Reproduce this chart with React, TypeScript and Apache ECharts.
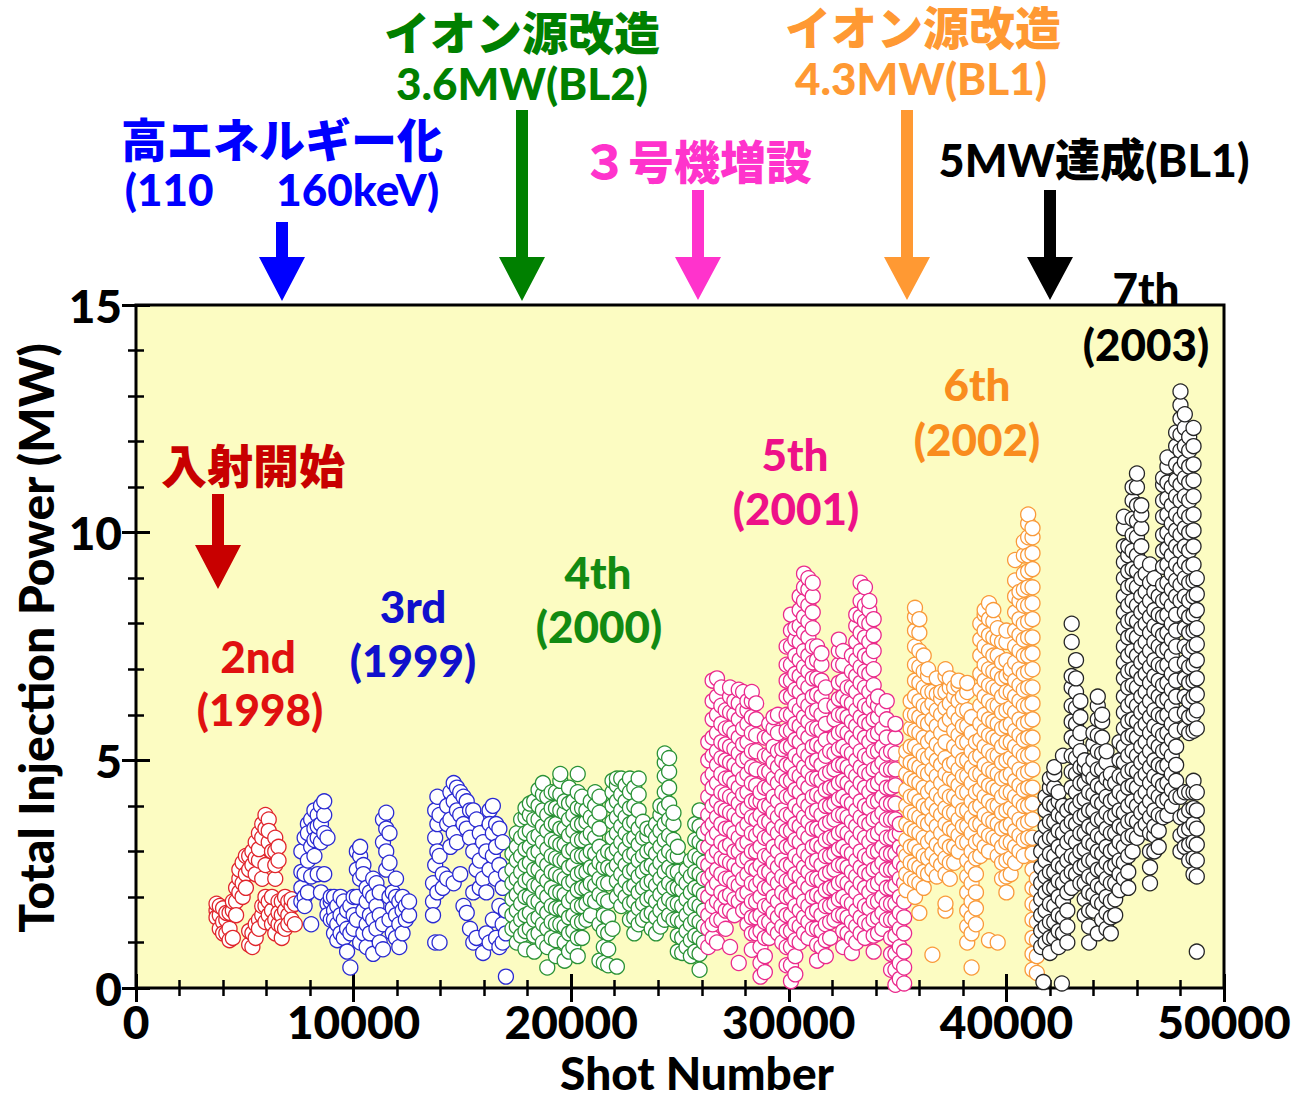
import React, { useEffect, useRef } from "react";
import * as echarts from "echarts";

const FONT = "Lato, 'Noto Sans CJK JP', sans-serif";

// Axis ranges and tick labels
const shotTicks = [0, 10000, 20000, 30000, 40000, 50000];
const powerTicks = [0, 5, 10, 15];

// Each row: [shot number, injection powers (MW) logged around that shot...]
const run2nd: number[][] = [
  [3700, 1.7, 1.55, 1.85],
  [3850, 1.6, 1.3, 1.8],
  [4000, 1.75, 1.45, 1.2],
  [4150, 1.5, 1.2, 1.65],
  [4300, 1.3, 1.65, 1.05],
  [4450, 1.1, 1.7, 1.9],
  [4600, 1.9, 2.2, 1.6],
  [4750, 2.4, 2.6, 2.1],
  [4900, 2.3, 2.75, 2.0],
  [5050, 2.5, 2.9, 2.2],
  [5200, 2.9, 2.6, 0.95, 1.25],
  [5350, 0.9, 1.2, 2.7, 3.0],
  [5500, 1.1, 1.4, 3.2, 2.5, 2.85],
  [5650, 1.5, 1.3, 3.4, 2.8, 3.05],
  [5800, 1.6, 1.8, 3.6, 3.3, 2.4],
  [5950, 1.8, 2.0, 3.8, 3.5, 2.7, 1.45],
  [6100, 1.9, 1.6, 3.7, 3.2, 3.45],
  [6250, 1.7, 2.0, 1.4, 3.0],
  [6400, 1.5, 1.2, 3.3, 3.0, 2.4, 2.7],
  [6550, 1.4, 1.9, 3.1, 2.8, 1.65],
  [6700, 1.9, 1.1, 1.6, 1.35],
  [6850, 2.0, 1.3, 1.7],
  [7000, 1.6, 1.9, 1.4],
  [7150, 1.8, 1.5, 1.95],
  [7300, 1.85, 1.4],
];

const run3rd: number[][] = [
  [7600, 3.0, 2.2, 1.9, 2.55],
  [7750, 3.3, 2.5, 2.0, 1.8],
  [7900, 3.6, 3.4, 2.8, 2.1],
  [8050, 3.7, 3.1, 2.45, 1.4],
  [8200, 3.5, 3.9, 2.9, 3.25],
  [8350, 3.3, 3.8, 2.5, 3.55],
  [8500, 3.6, 4.0, 3.2, 2.1],
  [8650, 3.8, 4.1, 3.4, 2.5],
  [8800, 3.3, 1.85, 1.6],
  [8950, 1.9, 1.5, 2.0],
  [9100, 1.7, 2.0, 1.2, 1.5],
  [9250, 1.8, 1.4, 1.05],
  [9400, 2.0, 1.6, 1.2],
  [9550, 1.5, 1.1, 1.9],
  [9700, 1.7, 1.3, 0.8],
  [9850, 0.45, 1.2, 1.8],
  [10000, 1.6, 1.3, 2.0],
  [10150, 2.6, 3.0, 2.0, 1.5],
  [10300, 2.9, 3.1, 2.4, 1.0],
  [10450, 2.7, 2.5, 1.7, 1.2],
  [10600, 2.2, 1.9, 1.4, 0.9],
  [10750, 2.1, 1.6, 1.2],
  [10900, 2.4, 2.0, 1.5, 0.75],
  [11050, 1.8, 1.3, 2.3],
  [11200, 2.1, 1.6, 1.0],
  [11350, 3.2, 3.7, 1.4, 0.85],
  [11500, 3.85, 3.5, 3.0, 2.6],
  [11650, 3.4, 2.75, 2.0, 1.5],
  [11800, 2.1, 1.75, 1.2],
  [11950, 2.0, 1.6, 2.4, 1.1],
  [12100, 1.9, 1.4, 0.9],
  [12250, 2.0, 1.7, 1.2],
  [12400, 1.8, 1.5],
  [12550, 1.6, 1.9],
  [13650, 1.9, 1.6, 2.3],
  [13750, 2.7, 3.3, 3.9, 1.0],
  [13850, 4.2, 3.6, 3.0, 2.1],
  [13950, 3.8, 2.9, 1.0],
  [14100, 2.2, 2.5],
  [14300, 3.6, 2.4, 4.0],
  [14450, 4.3, 3.7, 3.1],
  [14600, 4.5, 4.1, 3.4, 2.3],
  [14750, 4.4, 3.9, 3.2],
  [14900, 4.3, 3.8, 2.5],
  [15050, 4.2, 3.6, 1.8],
  [15200, 4.1, 3.5, 1.65],
  [15350, 3.9, 3.3, 1.3],
  [15500, 3.9, 3.0, 2.1, 1.0],
  [15650, 3.7, 2.6, 1.1],
  [15800, 3.4, 2.2, 2.8],
  [15950, 3.2, 2.4, 0.77],
  [16100, 3.0, 2.1, 1.2],
  [16250, 3.9, 3.6, 2.6, 1.0],
  [16400, 4.0, 3.4, 2.9, 1.5],
  [16550, 3.6, 3.1, 2.4, 1.1],
  [16700, 3.5, 2.7, 1.8, 0.9],
  [16850, 3.2, 2.2, 1.4, 1.0],
  [17000, 2.5, 1.7, 1.2, 0.25],
];

const run4th: number[][] = [
  [17300, 1.3, 1.6, 1.95, 2.3, 2.6, 2.95],
  [17500, 1.0, 1.35, 1.7, 2.05, 2.4, 2.8, 3.1, 3.4],
  [17700, 1.15, 1.5, 1.85, 2.2, 2.55, 2.9, 3.3, 3.7],
  [17900, 0.85, 1.25, 1.6, 2.0, 2.35, 2.7, 3.05, 3.4, 3.75, 3.95],
  [18100, 1.3, 1.65, 2.0, 2.4, 2.75, 3.1, 3.45, 3.8, 4.05],
  [18300, 0.8, 1.15, 1.5, 1.9, 2.25, 2.6, 2.95, 3.3, 3.7, 4.1],
  [18500, 1.2, 1.55, 1.9, 2.25, 2.6, 3.0, 3.35, 3.7, 4.0, 4.35],
  [18700, 1.0, 1.4, 1.75, 2.1, 2.45, 2.8, 3.2, 3.55, 3.9, 4.25, 4.5],
  [18900, 0.45, 0.9, 1.3, 1.65, 2.0, 2.35, 2.7, 3.05, 3.45, 3.8, 4.2],
  [19100, 1.1, 1.45, 1.8, 2.2, 2.55, 2.9, 3.25, 3.6, 3.95, 4.3],
  [19300, 0.7, 1.05, 1.4, 1.75, 2.1, 2.5, 2.85, 3.2, 3.6, 3.95, 4.3],
  [19500, 1.4, 1.75, 2.1, 2.45, 2.8, 3.15, 3.5, 3.9, 4.25, 4.55, 4.7],
  [19700, 0.6, 1.0, 1.35, 1.7, 2.05, 2.4, 2.8, 3.15, 3.5, 3.85, 4.1],
  [19900, 0.8, 1.2, 1.55, 1.9, 2.3, 2.65, 3.0, 3.35, 3.7, 4.05, 4.4],
  [20100, 0.9, 1.25, 1.6, 2.0, 2.35, 2.7, 3.05, 3.45, 3.8, 4.1],
  [20300, 0.7, 1.1, 1.45, 1.8, 2.15, 2.5, 2.9, 3.25, 3.6, 3.95, 4.3, 4.7],
  [20500, 1.1, 1.45, 1.8, 2.2, 2.55, 2.9, 3.25, 3.6, 3.95, 4.2],
  [20700, 1.5, 1.85, 2.2, 2.55, 2.9, 3.3, 3.65, 3.9],
  [20900, 1.6, 1.95, 2.3, 2.65, 3.0, 3.4, 3.75, 4.1],
  [21100, 1.9, 2.25, 2.6, 2.95, 3.3, 3.65, 4.0, 4.3],
  [21300, 0.6, 1.4, 2.05, 2.4, 2.75, 3.1, 3.5, 3.85, 4.2],
  [21500, 0.55, 0.9, 1.25, 1.6, 1.95, 2.3, 2.65, 2.9],
  [21700, 0.5, 0.85, 1.2, 1.55, 1.9, 2.3, 2.65, 3.0],
  [21900, 1.3, 2.6, 2.95, 3.3, 3.65, 4.0, 4.3, 4.55],
  [22100, 0.47, 2.0, 2.35, 2.7, 3.05, 3.4, 3.75, 4.1, 4.45, 4.6],
  [22300, 1.8, 2.15, 2.5, 2.85, 3.2, 3.55, 3.9, 4.25, 4.6],
  [22500, 2.0, 2.35, 2.7, 3.05, 3.4, 3.75, 4.1, 4.45],
  [22700, 1.5, 1.85, 2.2, 2.55, 2.9, 3.25, 3.6, 3.95, 4.3, 4.6],
  [22900, 1.2, 1.55, 1.9, 2.25, 2.6, 2.95, 3.3, 3.65, 4.0, 4.4],
  [23100, 1.4, 1.75, 2.1, 2.45, 2.8, 3.15, 3.5, 3.9, 4.25, 4.6],
  [23300, 1.5, 1.85, 2.2, 2.55, 2.9, 3.3, 3.65],
  [23500, 1.6, 1.95, 2.3, 2.65, 3.0, 3.35, 3.5],
  [23700, 1.3, 1.65, 2.0, 2.35, 2.7, 3.05, 3.45],
  [23900, 1.2, 1.55, 1.9, 2.25, 2.6, 2.95, 3.3, 3.6],
  [24100, 1.35, 1.7, 2.05, 2.4, 2.75, 3.1, 3.45, 3.8, 4.0],
  [24300, 1.5, 1.85, 2.2, 2.55, 2.9, 3.25, 3.6, 3.95, 4.3, 4.65, 4.95, 5.15],
  [24500, 1.6, 1.95, 2.3, 2.65, 3.0, 3.35, 3.7, 4.05, 4.4, 4.75, 5.05],
  [24700, 1.5, 1.85, 2.2, 2.55, 2.9, 3.25, 3.6, 3.85],
  [24900, 0.8, 1.15, 1.5, 1.85, 2.2, 2.55, 2.9, 3.1],
  [25100, 0.77, 1.1, 1.45, 1.8, 2.15, 2.4],
  [25300, 0.9, 1.25, 1.6, 1.95, 2.3, 2.6],
  [25500, 0.7, 1.05, 1.4, 1.75, 2.1, 2.45, 2.8],
  [25700, 0.8, 1.15, 1.5, 1.85, 2.2, 2.55, 2.9, 3.25, 3.6],
  [25900, 0.4, 0.75, 1.1, 1.45, 1.8, 2.15, 2.5, 2.85, 3.2, 3.55, 3.9],
  [26100, 1.0, 1.35, 1.7, 2.05, 2.4, 2.75, 3.1, 3.4],
];

const run5th: number[][] = [
  [26300, 0.9, 1.3, 1.6, 2.0, 2.4, 2.7, 3.1, 3.5, 3.8, 4.2, 4.6, 5.0, 5.4],
  [26500, 1.1, 1.4, 1.8, 2.2, 2.5, 2.9, 3.3, 3.6, 4.0, 4.4, 4.7, 5.1, 5.5, 5.9, 6.3, 6.75],
  [26700, 1.0, 1.5, 1.9, 2.3, 2.6, 3.0, 3.4, 3.75, 4.1, 4.5, 4.9, 5.2, 5.6, 6.0, 6.4, 6.8],
  [26900, 1.5, 1.8, 2.1, 2.5, 2.85, 3.2, 3.6, 3.95, 4.3, 4.7, 5.05, 5.4, 5.8, 6.2, 6.6],
  [27100, 1.3, 1.7, 2.0, 2.4, 2.8, 3.1, 3.5, 3.9, 4.25, 4.6, 5.0, 5.35, 5.7, 6.1],
  [27300, 0.9, 1.7, 2.05, 2.4, 2.75, 3.15, 3.5, 3.85, 4.2, 4.6, 4.95, 5.3, 5.7, 6.05, 6.4, 6.6],
  [27500, 1.6, 1.95, 2.3, 2.7, 3.0, 3.4, 3.8, 4.15, 4.5, 4.9, 5.25, 5.6, 6.0, 6.3],
  [27700, 0.55, 1.9, 2.25, 2.6, 3.0, 3.3, 3.7, 4.05, 4.4, 4.8, 5.15, 5.5, 5.9, 6.25, 6.55],
  [27900, 1.7, 2.05, 2.4, 2.8, 3.15, 3.5, 3.9, 4.25, 4.6, 5.0, 5.35, 5.7, 6.1, 6.5],
  [28100, 1.4, 1.75, 2.1, 2.5, 2.85, 3.2, 3.6, 3.95, 4.3, 4.7, 5.05, 5.4, 5.8, 6.1, 6.3],
  [28300, 0.84, 1.2, 1.55, 1.9, 2.3, 2.65, 3.0, 3.4, 3.75, 4.1, 4.5, 4.85, 5.2, 5.6, 5.95, 6.3, 6.5],
  [28500, 1.2, 1.55, 1.9, 2.25, 2.6, 3.0, 3.35, 3.7, 4.1, 4.45, 4.8, 5.2, 5.55, 5.9, 6.25],
  [28700, 0.25, 0.55, 0.9, 1.25, 1.6, 2.0, 2.35, 2.7, 3.1, 3.45, 3.8, 4.1, 4.3],
  [28900, 0.35, 0.7, 1.1, 1.45, 1.8, 2.2, 2.55, 2.9, 3.3, 3.65, 4.0, 4.4, 4.75, 5.1, 5.5],
  [29100, 1.1, 1.45, 1.8, 2.2, 2.55, 2.9, 3.3, 3.65, 4.0, 4.4, 4.75, 5.1, 5.5, 5.8],
  [29300, 1.3, 1.65, 2.0, 2.4, 2.75, 3.1, 3.5, 3.85, 4.2, 4.6, 4.95, 5.3, 5.7, 5.95],
  [29500, 1.2, 1.55, 1.9, 2.3, 2.65, 3.0, 3.4, 3.75, 4.1, 4.5, 4.85, 5.2, 5.6, 6.0],
  [29700, 1.0, 1.35, 1.7, 2.1, 2.45, 2.8, 3.2, 3.55, 3.9, 4.3, 4.65, 5.0, 5.25],
  [29900, 0.5, 0.9, 1.25, 1.6, 2.0, 2.35, 2.7, 3.1, 3.45, 3.8, 4.2, 4.55, 4.9, 5.3, 5.65, 6.0, 6.4, 6.75, 7.1, 7.5],
  [30100, 0.15, 0.5, 0.9, 1.25, 1.6, 2.0, 2.35, 2.7, 3.1, 3.45, 3.8, 4.2, 4.55, 4.9, 5.3, 5.65, 6.0, 6.4, 6.75, 7.1, 7.5, 7.85, 8.2],
  [30300, 0.3, 0.7, 1.05, 1.4, 1.8, 2.15, 2.5, 2.9, 3.25, 3.6, 4.0, 4.35, 4.7, 5.1, 5.45, 5.8, 6.2, 6.55, 6.9, 7.3, 7.65, 7.9],
  [30500, 1.0, 1.35, 1.7, 2.1, 2.45, 2.8, 3.2, 3.55, 3.9, 4.3, 4.65, 5.0, 5.4, 5.75, 6.1, 6.5, 6.85, 7.2, 7.6, 7.95, 8.3, 8.6],
  [30700, 1.2, 1.55, 1.9, 2.3, 2.65, 3.0, 3.4, 3.75, 4.1, 4.5, 4.85, 5.2, 5.6, 5.95, 6.3, 6.7, 7.05, 7.4, 7.8, 8.15, 8.5, 8.8, 9.1],
  [30900, 1.1, 1.45, 1.8, 2.2, 2.55, 2.9, 3.3, 3.65, 4.0, 4.4, 4.75, 5.1, 5.5, 5.85, 6.2, 6.6, 6.95, 7.3, 7.7, 8.05, 8.4, 8.75, 9.0],
  [31100, 1.3, 1.65, 2.0, 2.4, 2.75, 3.1, 3.5, 3.85, 4.2, 4.6, 4.95, 5.3, 5.7, 6.05, 6.4, 6.8, 7.15, 7.5, 7.9, 8.25, 8.6, 8.9],
  [31300, 0.6, 0.95, 1.3, 1.7, 2.05, 2.4, 2.8, 3.15, 3.5, 3.9, 4.25, 4.6, 5.0, 5.35, 5.7, 6.1, 6.45, 6.8, 7.2, 7.5],
  [31500, 0.9, 1.25, 1.6, 2.0, 2.35, 2.7, 3.1, 3.45, 3.8, 4.2, 4.55, 4.9, 5.3, 5.65, 6.0, 6.4, 6.75, 7.1, 7.35],
  [31700, 0.7, 1.05, 1.4, 1.8, 2.15, 2.5, 2.9, 3.25, 3.6, 4.0, 4.35, 4.7, 5.1, 5.45, 5.8, 6.2, 6.6],
  [31900, 1.1, 1.45, 1.8, 2.2, 2.55, 2.9, 3.3, 3.65, 4.0, 4.4, 4.75, 5.2],
  [32100, 1.5, 1.85, 2.2, 2.6, 2.95, 3.3, 3.7, 4.05, 4.4, 4.8, 5.15, 5.5, 5.9, 6.2],
  [32300, 1.6, 1.95, 2.3, 2.7, 3.05, 3.4, 3.8, 4.15, 4.5, 4.9, 5.25, 5.6, 6.0, 6.35, 6.7, 7.1, 7.4, 7.65],
  [32500, 0.9, 1.25, 1.6, 2.0, 2.35, 2.7, 3.1, 3.45, 3.8, 4.2, 4.55, 4.9, 5.3, 5.65, 6.0, 6.4, 6.75, 7.1, 7.4],
  [32700, 1.2, 1.55, 1.9, 2.3, 2.65, 3.0, 3.4, 3.75, 4.1, 4.5, 4.85, 5.2, 5.6, 5.95, 6.3, 6.6],
  [32900, 0.77, 1.1, 1.45, 1.85, 2.2, 2.55, 2.95, 3.3, 3.65, 4.05, 4.4, 4.75, 5.15, 5.5, 5.85, 6.25, 6.6, 6.95, 7.3],
  [33100, 1.0, 1.35, 1.7, 2.1, 2.45, 2.8, 3.2, 3.55, 3.9, 4.3, 4.65, 5.0, 5.4, 5.75, 6.1, 6.5, 6.85, 7.2, 7.6, 7.95, 8.2],
  [33300, 1.2, 1.55, 1.9, 2.3, 2.65, 3.0, 3.4, 3.75, 4.1, 4.5, 4.85, 5.2, 5.6, 5.95, 6.3, 6.7, 7.05, 7.4, 7.8, 8.15, 8.5, 8.9],
  [33500, 1.1, 1.45, 1.8, 2.2, 2.55, 2.9, 3.3, 3.65, 4.0, 4.4, 4.75, 5.1, 5.5, 5.85, 6.2, 6.6, 6.95, 7.3, 7.7, 8.05, 8.4, 8.8],
  [33700, 1.4, 1.75, 2.1, 2.5, 2.85, 3.2, 3.6, 3.95, 4.3, 4.7, 5.05, 5.4, 5.8, 6.15, 6.5, 6.9, 7.25, 7.6, 8.0, 8.3, 8.5],
  [33900, 0.8, 1.15, 1.5, 1.9, 2.25, 2.6, 3.0, 3.35, 3.7, 4.1, 4.45, 4.8, 5.2, 5.55, 5.9, 6.3, 6.65, 7.0, 7.4, 7.75, 8.1],
  [34100, 1.2, 1.55, 1.9, 2.3, 2.65, 3.0, 3.4, 3.75, 4.1, 4.5, 4.85, 5.2, 5.6, 5.95, 6.2, 6.4],
  [34300, 1.3, 1.65, 2.0, 2.4, 2.75, 3.1, 3.5, 3.85, 4.2, 4.6, 4.95, 5.3, 5.7, 6.1],
  [34500, 1.5, 1.85, 2.2, 2.6, 2.95, 3.3, 3.7, 4.05, 4.4, 4.8, 5.15, 5.5, 5.9, 6.3],
  [34700, 0.4, 0.75, 1.1, 1.5, 1.85, 2.2, 2.6, 2.95, 3.3, 3.7, 4.05, 4.4, 4.8, 5.2],
  [34900, 0.07, 0.4, 0.75, 1.15, 1.5, 1.85, 2.25, 2.6, 2.95, 3.35, 3.7, 4.05, 4.45, 4.8, 5.15, 5.5, 5.8],
  [35100, 0.2, 0.55, 0.9, 1.3, 1.65, 2.0, 2.4, 2.75, 3.1, 3.4, 3.6],
  [35300, 0.1, 0.45, 0.8, 1.2, 1.55, 1.9, 2.3, 2.65, 3.0],
];

const run6th: number[][] = [
  [35400, 2.15, 2.5, 2.9, 3.25, 3.6, 4.0, 4.35, 4.7, 5.0, 5.2],
  [35600, 2.4, 2.75, 3.1, 3.5, 3.85, 4.2, 4.6, 4.95, 5.3, 5.7, 6.0, 6.3],
  [35800, 2.0, 2.35, 2.7, 3.1, 3.45, 3.8, 4.2, 4.55, 4.9, 5.3, 5.65, 6.0, 6.4, 6.75, 7.1, 7.5, 7.85, 8.15, 8.35],
  [36000, 1.65, 2.3, 2.65, 3.0, 3.4, 3.75, 4.1, 4.5, 4.85, 5.2, 5.6, 5.95, 6.3, 6.7, 7.05, 7.4, 7.8, 8.1],
  [36200, 2.2, 2.55, 2.9, 3.3, 3.65, 4.0, 4.4, 4.75, 5.1, 5.5, 5.85, 6.2, 6.6, 6.95, 7.3],
  [36400, 2.5, 2.85, 3.2, 3.6, 3.95, 4.3, 4.7, 5.05, 5.4, 5.8, 6.15, 6.5, 6.85, 7.0],
  [36600, 0.73, 2.6, 2.95, 3.3, 3.7, 4.05, 4.4, 4.8, 5.15, 5.5, 5.9, 6.25, 6.5],
  [36800, 2.45, 2.8, 3.15, 3.55, 3.9, 4.25, 4.65, 5.0, 5.35, 5.75, 6.1, 6.45, 6.8],
  [37000, 2.7, 3.05, 3.4, 3.8, 4.15, 4.5, 4.9, 5.25, 5.6, 6.0, 6.35, 6.5],
  [37200, 1.7, 1.85, 2.5, 2.85, 3.2, 3.6, 3.95, 4.3, 4.7, 5.05, 5.4, 5.8, 6.15, 6.5, 6.85, 7.0],
  [37400, 2.4, 2.75, 3.1, 3.5, 3.85, 4.2, 4.6, 4.9, 5.9, 6.25, 6.6, 6.8],
  [37600, 2.75, 3.1, 3.45, 3.85, 4.2, 4.55, 4.95, 5.3, 5.65, 6.05, 6.4, 6.6],
  [37800, 3.0, 3.35, 3.7, 4.1, 4.45, 4.8, 5.2, 5.55, 5.9, 6.3, 6.65, 6.75],
  [38000, 3.2, 3.55, 3.9, 4.3, 4.65, 5.0, 5.4, 5.75, 6.1, 6.4],
  [38200, 1.0, 1.35, 1.7, 2.1, 2.45, 2.8, 3.2, 3.55, 3.9, 4.3, 4.65, 5.0, 5.4, 5.75, 6.1, 6.5, 6.7],
  [38400, 0.45, 1.2, 1.55, 1.9, 2.3, 2.65, 3.0, 3.4, 3.75, 4.1, 4.5, 4.85, 5.2, 5.6, 5.95],
  [38600, 1.4, 1.75, 2.1, 2.5, 2.85, 3.2, 3.6, 3.95, 4.3, 4.7, 5.05, 5.4],
  [38800, 2.9, 3.25, 3.6, 4.0, 4.35, 4.7, 5.1, 5.45, 5.8, 6.2, 6.55, 6.9, 7.3, 7.65, 8.0],
  [39000, 3.1, 3.45, 3.8, 4.2, 4.55, 4.9, 5.3, 5.65, 6.0, 6.4, 6.75, 7.1, 7.5, 7.85, 8.2, 8.3],
  [39200, 1.05, 3.0, 3.35, 3.7, 4.1, 4.45, 4.8, 5.2, 5.55, 5.9, 6.3, 6.65, 7.0, 7.4, 7.75, 8.1, 8.45],
  [39400, 3.3, 3.65, 4.0, 4.4, 4.75, 5.1, 5.5, 5.85, 6.2, 6.6, 6.95, 7.3, 7.7, 8.05, 8.3],
  [39600, 1.0, 2.9, 3.25, 3.6, 4.0, 4.35, 4.7, 5.1, 5.45, 5.8, 6.2, 6.55, 6.9, 7.3, 7.65, 7.9],
  [39800, 2.4, 2.75, 3.1, 3.5, 3.85, 4.2, 4.6, 4.95, 5.3, 5.7, 6.05, 6.4, 6.8, 7.15, 7.6],
  [40000, 2.1, 2.45, 2.8, 3.2, 3.55, 3.9, 4.3, 4.65, 5.0, 5.4, 5.75, 6.1, 6.5, 6.85, 7.2, 7.6, 7.85],
  [40200, 2.5, 2.85, 3.2, 3.6, 3.95, 4.3, 4.7, 5.05, 5.4, 5.8, 6.15, 6.5, 6.9, 7.0],
  [40400, 2.75, 3.1, 3.45, 3.85, 4.2, 4.55, 4.95, 5.3, 5.65, 6.05, 6.4, 6.75, 7.15, 7.5, 7.85, 8.25, 8.6, 8.95, 9.4],
  [40600, 3.0, 3.35, 3.7, 4.1, 4.45, 4.8, 5.2, 5.55, 5.9, 6.3, 6.65, 7.0, 7.4, 7.75, 8.1, 8.5, 8.7],
  [40800, 2.9, 3.25, 3.6, 4.0, 4.35, 4.7, 5.1, 5.45, 5.8, 6.2, 6.55, 6.9, 7.3, 7.65, 8.0, 8.4, 8.75, 9.1, 9.5, 9.8],
  [41000, 3.3, 3.65, 4.0, 4.4, 4.75, 5.1, 5.5, 5.85, 6.2, 6.6, 6.95, 7.3, 7.7, 8.05, 8.4, 8.8, 9.15, 9.5, 9.9, 10.2, 10.4],
  [41200, 0.4, 0.75, 1.1, 1.5, 1.85, 2.2, 2.6, 2.95, 3.3, 3.7, 4.05, 4.4, 4.8, 5.15, 5.5, 5.9, 6.25, 6.6, 7.0, 7.35, 7.7, 8.1, 8.45, 8.8, 9.2, 9.55, 9.9, 10.1],
  [41400, 0.33, 0.7, 1.05, 1.45, 1.8, 2.15, 2.4],
];

const run7th: number[][] = [
  [41600, 0.9, 1.25, 1.6, 1.95, 2.3, 2.65, 3.0, 3.3],
  [41700, 0.13],
  [41800, 1.0, 1.35, 1.7, 2.1, 2.45, 2.8, 3.2, 3.55, 3.9, 4.2],
  [42000, 0.77, 1.1, 1.45, 1.85, 2.2, 2.55, 2.95, 3.3, 3.65, 4.05, 4.4, 4.6],
  [42200, 1.1, 1.45, 1.8, 2.2, 2.55, 2.9, 3.3, 3.65, 4.0, 4.4, 4.7, 4.85],
  [42400, 0.9, 1.25, 1.6, 2.0, 2.35, 2.7, 3.1, 3.45, 3.8, 4.1, 4.3],
  [42550, 0.1],
  [42600, 1.2, 1.55, 1.9, 2.3, 2.65, 3.0, 3.4, 3.75, 4.0, 5.1],
  [42800, 1.0, 1.35, 1.7, 2.1, 2.45, 2.8, 3.2, 3.55, 3.9],
  [43000, 2.2, 2.55, 2.9, 3.3, 3.65, 4.0, 4.4, 4.75, 5.1, 5.5, 5.85, 6.2, 6.6, 6.85, 7.6, 8.0],
  [43200, 2.5, 2.85, 3.2, 3.6, 3.95, 4.3, 4.7, 5.05, 5.4, 5.8, 6.15, 6.5, 6.8, 7.2],
  [43400, 2.3, 2.65, 3.0, 3.4, 3.75, 4.1, 4.5, 4.85, 5.2, 5.6, 5.95, 6.3],
  [43600, 1.6, 1.95, 2.3, 2.7, 3.05, 3.4, 3.8, 4.15, 4.5, 4.85, 5.0],
  [43800, 1.0, 1.35, 1.7, 2.1, 2.45, 2.8, 3.2, 3.55, 3.9, 4.3, 4.65, 4.8],
  [44000, 1.7, 2.05, 2.4, 2.8, 3.15, 3.5, 3.9, 4.25, 4.6, 5.0, 5.35, 5.6],
  [44200, 1.2, 1.9, 2.25, 2.6, 3.0, 3.35, 3.7, 4.1, 4.45, 4.8, 5.2, 5.55, 5.9, 6.2, 6.4],
  [44400, 1.5, 1.85, 2.2, 2.6, 2.95, 3.3, 3.7, 4.05, 4.4, 4.8, 5.15, 5.5, 5.85, 6.0],
  [44600, 1.3, 1.65, 2.0, 2.4, 2.75, 3.1, 3.5, 3.85, 4.2, 4.6, 4.95, 5.2],
  [44800, 1.2, 1.55, 1.9, 2.3, 2.65, 3.0, 3.4, 3.75, 4.1, 4.5, 4.7],
  [45000, 1.6, 1.95, 2.3, 2.7, 3.05, 3.4, 3.8, 4.15, 4.5],
  [45200, 2.15, 2.5, 2.8, 3.2, 3.55, 3.9, 4.3, 4.65, 5.0, 5.4],
  [45400, 2.4, 2.75, 3.1, 3.5, 3.85, 4.2, 4.6, 4.95, 5.3, 5.7, 6.05, 6.4, 6.8, 7.15, 7.5, 7.9, 8.25, 8.6, 9.0, 9.35, 9.7, 10.1, 10.35],
  [45600, 2.2, 2.55, 2.9, 3.3, 3.65, 4.0, 4.4, 4.75, 5.1, 5.5, 5.85, 6.2, 6.6, 6.95, 7.3, 7.7, 8.05, 8.4, 8.8, 9.15, 9.5, 9.7],
  [45800, 3.0, 3.35, 3.7, 4.1, 4.45, 4.8, 5.2, 5.55, 5.9, 6.3, 6.65, 7.0, 7.4, 7.75, 8.1, 8.5, 8.85, 9.2, 9.6, 9.95, 10.3, 10.7, 11.0],
  [46000, 3.3, 3.65, 4.0, 4.4, 4.75, 5.1, 5.5, 5.85, 6.2, 6.6, 6.95, 7.3, 7.7, 8.05, 8.4, 8.8, 9.15, 9.5, 9.9, 10.25, 10.6, 11.0, 11.3],
  [46200, 3.5, 3.85, 4.2, 4.6, 4.95, 5.3, 5.7, 6.05, 6.4, 6.8, 7.15, 7.5, 7.9, 8.25, 8.6, 9.0, 9.35, 9.7, 10.1, 10.4, 10.6],
  [46400, 3.6, 3.95, 4.3, 4.7, 5.05, 5.4, 5.8, 6.15, 6.5, 6.9, 7.25, 7.6, 8.0, 8.35, 8.7, 9.1],
  [46600, 2.3, 2.65, 3.0, 3.4, 3.75, 4.1, 4.5, 4.85, 5.2, 5.6, 5.95, 6.3, 6.7, 7.05, 7.4, 7.8, 8.15, 8.5, 8.9, 9.3],
  [46800, 3.0, 3.35, 3.55, 3.9, 4.3, 4.65, 5.0, 5.4, 5.75, 6.1, 6.5, 6.85, 7.2, 7.6, 7.95, 8.3, 8.7, 9.0],
  [47000, 3.1, 3.45, 3.8, 4.2, 4.55, 4.9, 5.3, 5.65, 6.0, 6.4, 6.75, 7.1, 7.5, 7.85, 8.2, 8.6],
  [47200, 3.75, 4.1, 4.45, 4.85, 5.2, 5.55, 5.95, 6.3, 6.65, 7.05, 7.4, 7.75, 8.15, 8.5, 8.85, 9.25, 9.6, 9.95, 10.35, 10.7, 11.05, 11.2],
  [47400, 3.8, 4.15, 4.5, 4.9, 5.25, 5.6, 6.0, 6.35, 6.7, 7.1, 7.45, 7.8, 8.2, 8.55, 8.9, 9.3, 9.65, 10.0, 10.4, 10.75, 11.1, 11.45, 11.65],
  [47600, 4.0, 4.35, 4.7, 5.1, 5.45, 5.8, 6.2, 6.55, 6.9, 7.3, 7.65, 8.0, 8.4, 8.75, 9.1, 9.5, 9.85, 10.2, 10.6, 11.0],
  [47800, 4.2, 4.55, 4.9, 5.3, 5.65, 6.0, 6.4, 6.75, 7.1, 7.5, 7.85, 8.2, 8.6, 8.95, 9.3, 9.7, 10.05, 10.4, 10.8, 11.15, 11.5, 11.9, 12.2],
  [48000, 3.0, 3.35, 3.75, 4.2, 8.5, 8.85, 9.2, 9.6, 9.95, 10.3, 10.7, 11.05, 11.4, 11.8, 12.15, 12.5, 12.8, 13.1],
  [48200, 3.1, 3.45, 3.8, 4.3, 5.7, 6.05, 6.4, 6.8, 7.15, 7.5, 7.9, 8.25, 8.6, 9.0, 9.35, 9.7, 10.1, 10.45, 10.8, 11.2, 11.55, 11.9, 12.3, 12.6],
  [48400, 2.8, 3.15, 3.5, 3.9, 4.3, 5.6, 5.95, 6.3, 6.7, 7.05, 7.4, 7.8, 8.15, 8.5, 8.9, 9.25, 9.6, 10.0, 10.35, 10.7, 11.1, 11.45, 11.8, 12.1],
  [48600, 2.5, 2.85, 3.2, 3.6, 3.95, 4.3, 4.55, 5.65, 6.0, 6.4, 6.75, 7.1, 7.5, 7.85, 8.2, 8.6, 8.95, 9.3, 9.7, 10.05, 10.4, 10.8, 11.15, 11.5, 11.9, 12.3],
  [48750, 0.8, 2.45, 2.8, 3.15, 3.5, 3.9, 4.3, 5.7, 6.1, 6.45, 6.8, 7.2, 7.55, 7.9, 8.3, 8.65, 9.0],
];

const campaigns = [
  { name: "2nd (1998)", color: "#E0262C", rows: run2nd },
  { name: "3rd (1999)", color: "#2A2AD2", rows: run3rd },
  { name: "4th (2000)", color: "#2A9236", rows: run4th },
  { name: "5th (2001)", color: "#EA2A8C", rows: run5th },
  { name: "6th (2002)", color: "#F99A3A", rows: run6th },
  { name: "7th (2003)", color: "#262626", rows: run7th },
];

function toPoints(rows: number[][]) {
  const pts: number[][] = [];
  rows.forEach(([shot, ...powers]) => powers.forEach((p) => pts.push([shot, p])));
  return pts;
}

function label(text: string, x: number, y: number, color: string, size: number) {
  return {
    type: "text",
    x,
    y,
    z: 10,
    silent: true,
    style: {
      text,
      fill: color,
      fontSize: size,
      fontWeight: 900,
      fontFamily: FONT,
      lineHeight: size,
      align: "center",
      verticalAlign: "middle",
      textAlign: "center",
      textVerticalAlign: "middle",
    },
  };
}

function arrow(x: number, top: number, base: number, tip: number, color: string) {
  return {
    type: "polygon",
    z: 10,
    silent: true,
    shape: {
      points: [
        [x - 6, top],
        [x + 6, top],
        [x + 6, base],
        [x + 23, base],
        [x, tip],
        [x - 23, base],
        [x - 6, base],
      ],
    },
    style: { fill: color },
  };
}

export default function App() {
  const ref = useRef<HTMLDivElement>(null);

  useEffect(() => {
    if (!ref.current) return;
    const chart = echarts.init(ref.current, undefined, { renderer: "svg" });

    const tickStyle = { color: "#000", width: 3 };
    const xCommon = {
      type: "value",
      min: shotTicks[0],
      max: shotTicks[shotTicks.length - 1],
      interval: shotTicks[1] - shotTicks[0],
      axisLine: { show: false },
      axisTick: { show: true, inside: true, length: 14, lineStyle: tickStyle },
      minorTick: { show: true, splitNumber: 5, length: 8, lineStyle: { color: "#000", width: 2.5 } },
      splitLine: { show: false },
      minorSplitLine: { show: false },
    };
    const yCommon = {
      type: "value",
      min: powerTicks[0],
      max: powerTicks[powerTicks.length - 1],
      interval: powerTicks[1] - powerTicks[0],
      axisLine: { show: false },
      axisTick: { show: true, inside: true, length: 14, lineStyle: tickStyle },
      minorTick: { show: true, splitNumber: 5, length: 8, lineStyle: { color: "#000", width: 2.5 } },
      splitLine: { show: false },
      minorSplitLine: { show: false },
    };
    const tickFont = { fontSize: 46, fontWeight: 900, fontFamily: FONT, color: "#000" };

    chart.setOption({
      animation: false,
      grid: {
        left: 136,
        right: 71,
        top: 305,
        bottom: 110,
        show: true,
        backgroundColor: "#FCFCC2",
        borderColor: "#000",
        borderWidth: 3,
      },
      xAxis: [
        {
          ...xCommon,
          position: "bottom",
          axisLabel: { ...tickFont, margin: 10, formatter: (v: number) => String(v) },
        },
        { ...xCommon, position: "top", axisLabel: { show: false } },
      ],
      yAxis: [
        { ...yCommon, position: "left", axisLabel: { ...tickFont, margin: 14 } },
        { ...yCommon, position: "right", axisLabel: { show: false } },
      ],
      series: campaigns.map((c) => ({
        name: c.name,
        type: "scatter",
        xAxisIndex: 0,
        yAxisIndex: 0,
        symbol: "circle",
        symbolSize: 15,
        large: false,
        silent: true,
        data: toPoints(c.rows),
        itemStyle: { color: "#FFFFFF", borderColor: c.color, borderWidth: 1.3, opacity: 1 },
      })),
      graphic: [
        // axis titles
        { ...label("Total Injection Power (MW)", 35, 638, "#000", 48), rotation: Math.PI / 2 },
        label("Shot Number", 697, 1072, "#000", 46),
        // upgrade milestones above the frame
        label("高エネルギー化", 282, 139, "#0000FF", 46),
        label("(110      160keV)", 282, 189, "#0000FF", 44),
        arrow(282, 222, 257, 301, "#0000FF"),
        label("イオン源改造", 522, 32, "#008000", 46),
        label("3.6MW(BL2)", 522, 83, "#008000", 44),
        arrow(522, 110, 257, 301, "#008000"),
        label("３号機増設", 697, 161, "#FF33CC", 46),
        arrow(698, 190, 257, 300, "#FF33CC"),
        label("イオン源改造", 923, 27, "#FF9933", 46),
        label("4.3MW(BL1)", 921, 78, "#FF9933", 44),
        arrow(907, 110, 257, 300, "#FF9933"),
        label("5MW達成(BL1)", 1094, 160, "#000", 45),
        arrow(1050, 190, 257, 300, "#000"),
        // campaign labels inside the frame
        label("入射開始", 253, 465, "#C80000", 46),
        arrow(218, 494, 545, 589, "#C80000"),
        label("2nd", 258, 656, "#E01010", 44),
        label("(1998)", 260, 709, "#E01010", 44),
        label("3rd", 413, 606, "#1010CC", 44),
        label("(1999)", 413, 660, "#1010CC", 44),
        label("4th", 598, 572, "#128A12", 44),
        label("(2000)", 599, 626, "#128A12", 44),
        label("5th", 795, 454, "#EE1188", 44),
        label("(2001)", 796, 508, "#EE1188", 44),
        label("6th", 977, 384, "#F98C1E", 44),
        label("(2002)", 977, 439, "#F98C1E", 44),
        label("7th", 1146, 288, "#000", 44),
        label("(2003)", 1146, 344, "#000", 44),
      ],
    });

    return () => chart.dispose();
  }, []);

  return (
    <div
      ref={ref}
      style={{ position: "fixed", left: 0, top: 0, width: 1295, height: 1098, background: "#FFFFFF" }}
    />
  );
}
